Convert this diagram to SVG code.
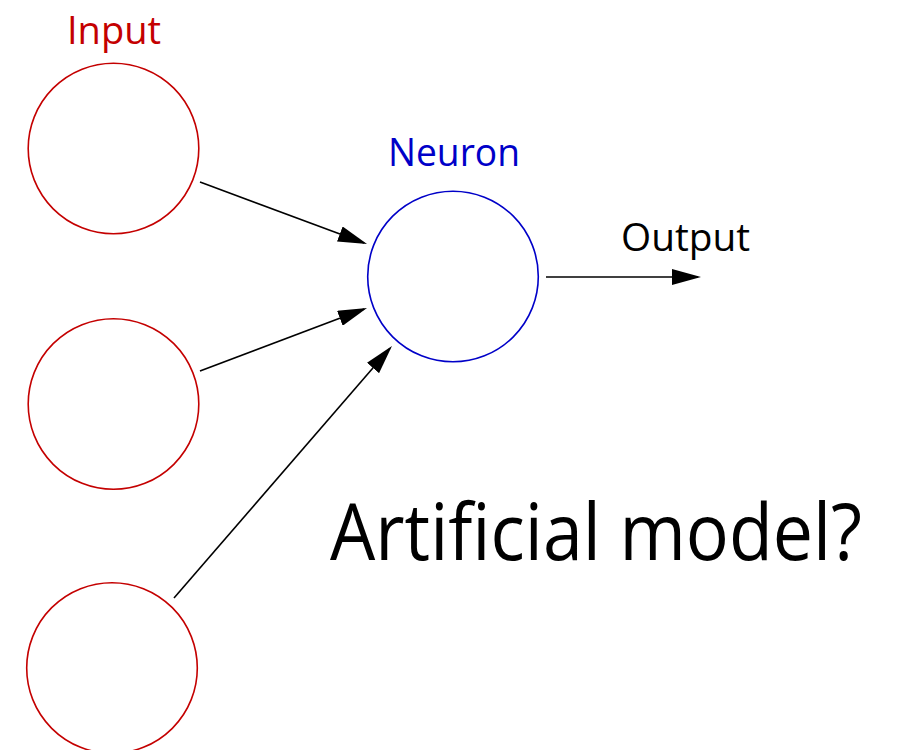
<svg xmlns="http://www.w3.org/2000/svg" width="900" height="750" viewBox="0 0 900 750">
  <style>
    .input circle { fill: none; stroke: #c40000; stroke-width: 1.6; }
    .neuron circle { fill: none; stroke: #0000c8; stroke-width: 1.6; }
    .conn line { stroke: #000; stroke-width: 1.6; marker-end: url(#arrow); }
    text { font-family: "Open Sans", "Noto Sans", "Liberation Sans", sans-serif; }
    .lbl { font-size: 38px; }
  </style>
  <defs>
    <marker id="arrow" viewBox="0 0 29 16" refX="26" refY="8" markerWidth="29" markerHeight="16" markerUnits="userSpaceOnUse" orient="auto">
      <path d="M0,0 L29,8 L0,16 z" fill="#000"/>
    </marker>
  </defs>
  <rect width="900" height="750" fill="#fff"/>

  <!-- input nodes -->
  <g id="input-1" class="input">
    <circle cx="113.5" cy="148.5" r="85.3"/>
    <text class="lbl" x="67" y="44" fill="#c40000" textLength="94" lengthAdjust="spacingAndGlyphs">Input</text>
  </g>
  <g id="input-2" class="input">
    <circle cx="113.5" cy="404" r="85.3"/>
  </g>
  <g id="input-3" class="input">
    <circle cx="112" cy="668" r="85.3"/>
  </g>

  <!-- neuron node -->
  <g id="neuron" class="neuron">
    <circle cx="453" cy="276.5" r="85.3"/>
    <text class="lbl" x="388" y="166" fill="#0000c8" textLength="132" lengthAdjust="spacingAndGlyphs">Neuron</text>
  </g>

  <!-- output label -->
  <g id="output">
    <text class="lbl" x="621" y="251" fill="#000" textLength="129" lengthAdjust="spacingAndGlyphs">Output</text>
  </g>

  <!-- connectors -->
  <g id="connectors" class="conn">
    <line x1="200" y1="182" x2="364.2" y2="243.0"/>
    <line x1="200" y1="371" x2="364.2" y2="309.1"/>
    <line x1="174" y1="598" x2="390.0" y2="348.3"/>
    <line x1="546" y1="277" x2="698" y2="277"/>
  </g>

  <!-- caption -->
  <g id="caption">
    <text x="330" y="560" font-size="79" fill="#000" textLength="532" lengthAdjust="spacingAndGlyphs">Artificial model?</text>
  </g>
</svg>
